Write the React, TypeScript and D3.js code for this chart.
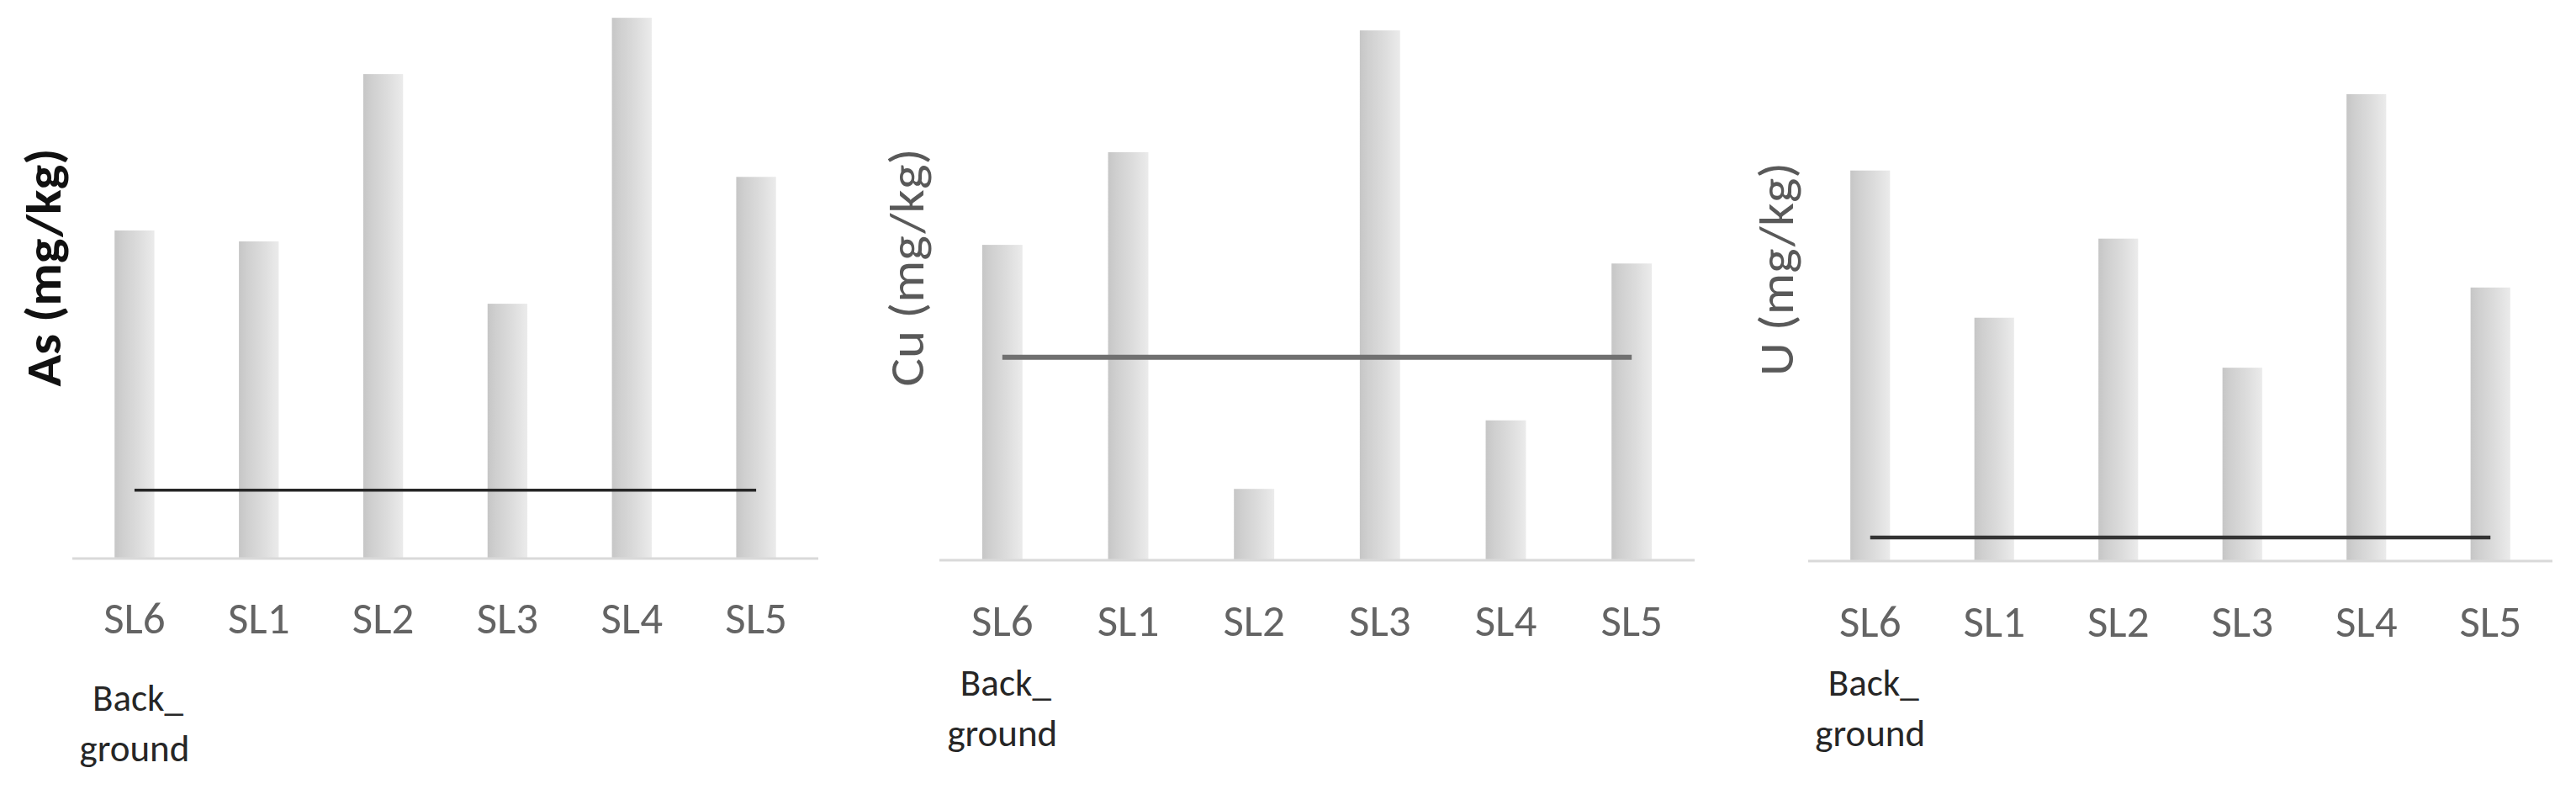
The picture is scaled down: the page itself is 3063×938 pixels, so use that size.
import React, { useEffect, useRef } from 'react';
import * as d3 from 'd3';

// sample sites, same order in every panel
const sites = ['SL6', 'SL1', 'SL2', 'SL3', 'SL4', 'SL5'];

// relative concentrations (no y scale printed, values read as % of plot height)
const asValues = [60.0, 58.0, 88.6, 46.6, 98.9, 69.8];
const cuValues = [57.5, 74.4, 13.0, 96.6, 25.5, 54.1];
const uValues = [71.1, 44.3, 58.7, 35.2, 85.0, 49.8];

// guideline level drawn across each panel
const asLimit = 12.5;
const cuLimit = 37.0;
const uLimit = 4.3;

const titles = ['As (mg/kg)', 'Cu (mg/kg)', 'U (mg/kg)'];

const FONT = "Calibri, Carlito, Lato, 'Open Sans', sans-serif";

const panels = [
  {
    title: titles[0], values: asValues, limit: asLimit,
    x0: 86, x1: 973, base: 664, labelX: 72, labelLen: 283, labelY: 318,
    titleColor: '#111', titleWeight: 700,
    lineColor: '#262626', lineWidth: 3.5, tickY: 753, noteY: 845,
  },
  {
    title: titles[1], values: cuValues, limit: cuLimit,
    x0: 1117, x1: 2015, base: 666, labelX: 1098, labelLen: 283, labelY: 318,
    titleColor: '#595959', titleWeight: 400,
    lineColor: '#707070', lineWidth: 6, tickY: 756, noteY: 827,
  },
  {
    title: titles[2], values: uValues, limit: uLimit,
    x0: 2150, x1: 3035, base: 667, labelX: 2132, labelLen: 254, labelY: 320,
    titleColor: '#595959', titleWeight: 400,
    lineColor: '#333333', lineWidth: 4.5, tickY: 757, noteY: 827,
  },
];

export default function App() {
  const ref = useRef<SVGSVGElement>(null);

  useEffect(() => {
    const svg = d3.select(ref.current);
    svg.selectAll('*').remove();

    const defs = svg.append('defs');
    const grad = defs.append('linearGradient')
      .attr('id', 'barGrad')
      .attr('x1', '0%').attr('x2', '100%').attr('y1', '0%').attr('y2', '0%');
    grad.append('stop').attr('offset', '0%').attr('stop-color', '#c6c6c6');
    grad.append('stop').attr('offset', '20%').attr('stop-color', '#cfcfcf');
    grad.append('stop').attr('offset', '60%').attr('stop-color', '#dcdcdc');
    grad.append('stop').attr('offset', '100%').attr('stop-color', '#ebebeb');

    panels.forEach(p => {
      const g = svg.append('g');

      const x = d3.scaleBand<string>()
        .domain(sites)
        .range([p.x0, p.x1])
        .padding(0);

      const y = d3.scaleLinear()
        .domain([0, 100])
        .range([p.base, 14]);

      const barW = x.bandwidth() * 0.32;
      const cx = (d: string) => (x(d) as number) + x.bandwidth() / 2;

      // bars
      g.selectAll('rect.bar')
        .data(p.values)
        .enter()
        .append('rect')
        .attr('class', 'bar')
        .attr('x', (d, i) => cx(sites[i]) - barW / 2)
        .attr('y', d => y(d))
        .attr('width', barW)
        .attr('height', d => y(0) - y(d))
        .attr('fill', 'url(#barGrad)');

      // category axis line
      g.append('line')
        .attr('x1', p.x0)
        .attr('x2', p.x1)
        .attr('y1', y(0))
        .attr('y2', y(0))
        .attr('stroke', '#d9d9d9')
        .attr('stroke-width', 3);

      // guideline
      const line = d3.line<string>()
        .x(d => cx(d))
        .y(() => y(p.limit));

      g.append('path')
        .datum(sites)
        .attr('fill', 'none')
        .attr('stroke', p.lineColor)
        .attr('stroke-width', p.lineWidth)
        .attr('d', line);

      // tick labels
      g.selectAll('text.tick')
        .data(sites)
        .enter()
        .append('text')
        .attr('class', 'tick')
        .attr('x', d => cx(d))
        .attr('y', p.tickY)
        .attr('text-anchor', 'middle')
        .attr('font-family', FONT)
        .attr('font-size', 53)
        .attr('fill', '#646464')
        .text(d => d);

      // note under the first site
      const note = g.append('text')
        .attr('x', cx(sites[0]))
        .attr('y', p.noteY)
        .attr('text-anchor', 'middle')
        .attr('font-family', FONT)
        .attr('font-size', 45)
        .attr('fill', '#262626');
      note.append('tspan').attr('x', cx(sites[0]) + 4).text('Back_');
      note.append('tspan').attr('x', cx(sites[0])).attr('dy', 60).text('ground');

      // y axis title
      g.append('text')
        .attr('transform', `translate(${p.labelX},${p.labelY}) rotate(-90)`)
        .attr('text-anchor', 'middle')
        .attr('font-family', FONT)
        .attr('font-size', 58)
        .attr('font-weight', p.titleWeight)
        .attr('fill', p.titleColor)
        .attr('textLength', p.labelLen)
        .attr('lengthAdjust', 'spacingAndGlyphs')
        .text(p.title);
    });
  }, []);

  return (
    <svg
      ref={ref}
      width={3063}
      height={938}
      style={{ position: 'absolute', left: 0, top: 0, background: '#fff', display: 'block' }}
    />
  );
}
